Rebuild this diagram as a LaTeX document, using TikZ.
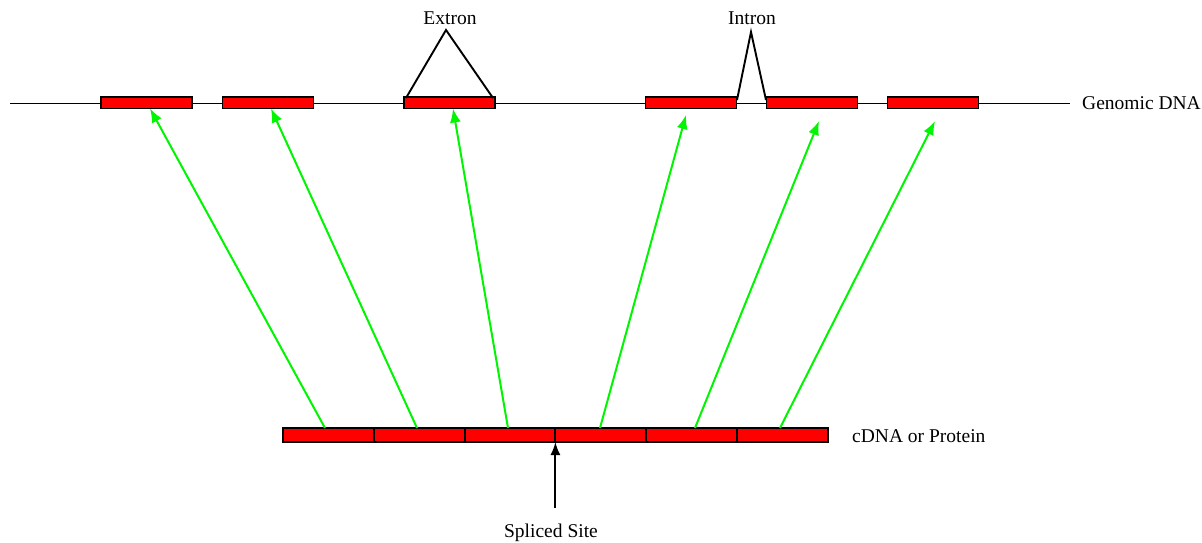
\documentclass[tikz,border=0pt]{standalone}
\usepackage{fontspec}
\setmainfont{Liberation Serif}
\usetikzlibrary{arrows.meta}
\definecolor{exonred}{RGB}{255,0,0}
\definecolor{mapgreen}{RGB}{0,245,0}
\begin{document}
\begin{tikzpicture}[x=1pt,y=-1pt,
  exon/.style={draw=black,fill=exonred,line width=1.7pt,inner sep=0pt,outer sep=0pt,
    minimum width=91pt,minimum height=11.5pt},
  seg/.style={draw=black,fill=exonred,line width=1.9pt,inner sep=0pt,outer sep=0pt,
    minimum width=90.8pt,minimum height=14pt},
  label/.style={inner sep=0pt,anchor=base,font=\fontsize{19.5}{23}\selectfont},
  strand/.style={line width=1.9pt,black},
  mapping/.style={line width=2pt,mapgreen,-{Latex[length=14pt,width=11pt]}},
  pointer/.style={line width=1.9pt,black,-{Latex[length=13pt,width=10pt]}}]
\useasboundingbox (0,0) rectangle (1202,543);

% genomic strand
\coordinate (gl) at (10,103.5);
\coordinate (gr) at (1070,103.5);
\draw[strand] (gl) -- (gr);
\node[label,anchor=base west] (gdna) at (1082,109) {Genomic DNA};

% exons on the genomic strand
\node[exon] (e1) at (146.5,102.75) {};
\node[exon] (e2) at (268,102.75) {};
\node[exon] (e3) at (449.5,102.75) {};
\node[exon] (e4) at (691,102.75) {};
\node[exon] (e5) at (812,102.75) {};
\node[exon] (e6) at (933,102.75) {};

% extron marker
\node[label] (extron) at (450,25) {Extron};
\coordinate (xpk) at (446,30);
\coordinate (xl) at (406,98);
\coordinate (xr) at (493,98);
\draw[line width=1.9pt,line join=miter] (xl) -- (xpk) -- (xr);

% intron marker
\node[label] (intron) at (752,25) {Intron};
\coordinate (ipk) at (751,32);
\coordinate (il) at (737,100);
\coordinate (ir) at (766,100);
\draw[line width=1.9pt,line join=miter] (il) -- (ipk) -- (ir);

% cDNA / protein bar
\foreach \i in {1,...,6}{
  \node[seg] (s\i) at ({283+90.8*(\i-0.5)},435) {};
}
\node[label,anchor=base west] (cdna) at (852,442) {cDNA or Protein};

% mapping arrows from the bar to the exons
\coordinate (t1) at (150,108.5);
\coordinate (t2) at (271,108.5);
\coordinate (t3) at (453,108.5);
\coordinate (t4) at (686,115);
\coordinate (t5) at (819,121);
\coordinate (t6) at (935,121);
\coordinate (b1) at (325,428);
\coordinate (b2) at (417,428);
\coordinate (b3) at (508,428);
\coordinate (b4) at (600,428);
\coordinate (b5) at (695,428);
\coordinate (b6) at (780,428);
\foreach \i in {1,...,6}{
  \draw[mapping] (b\i) -- (t\i);
}

% splice site pointer
\coordinate (sp) at (s4.south west |- 0,508);
\draw[pointer] (sp) -- (s4.south west);
\node[label] (splabel) at (551,537) {Spliced Site};
\end{tikzpicture}
\end{document}
